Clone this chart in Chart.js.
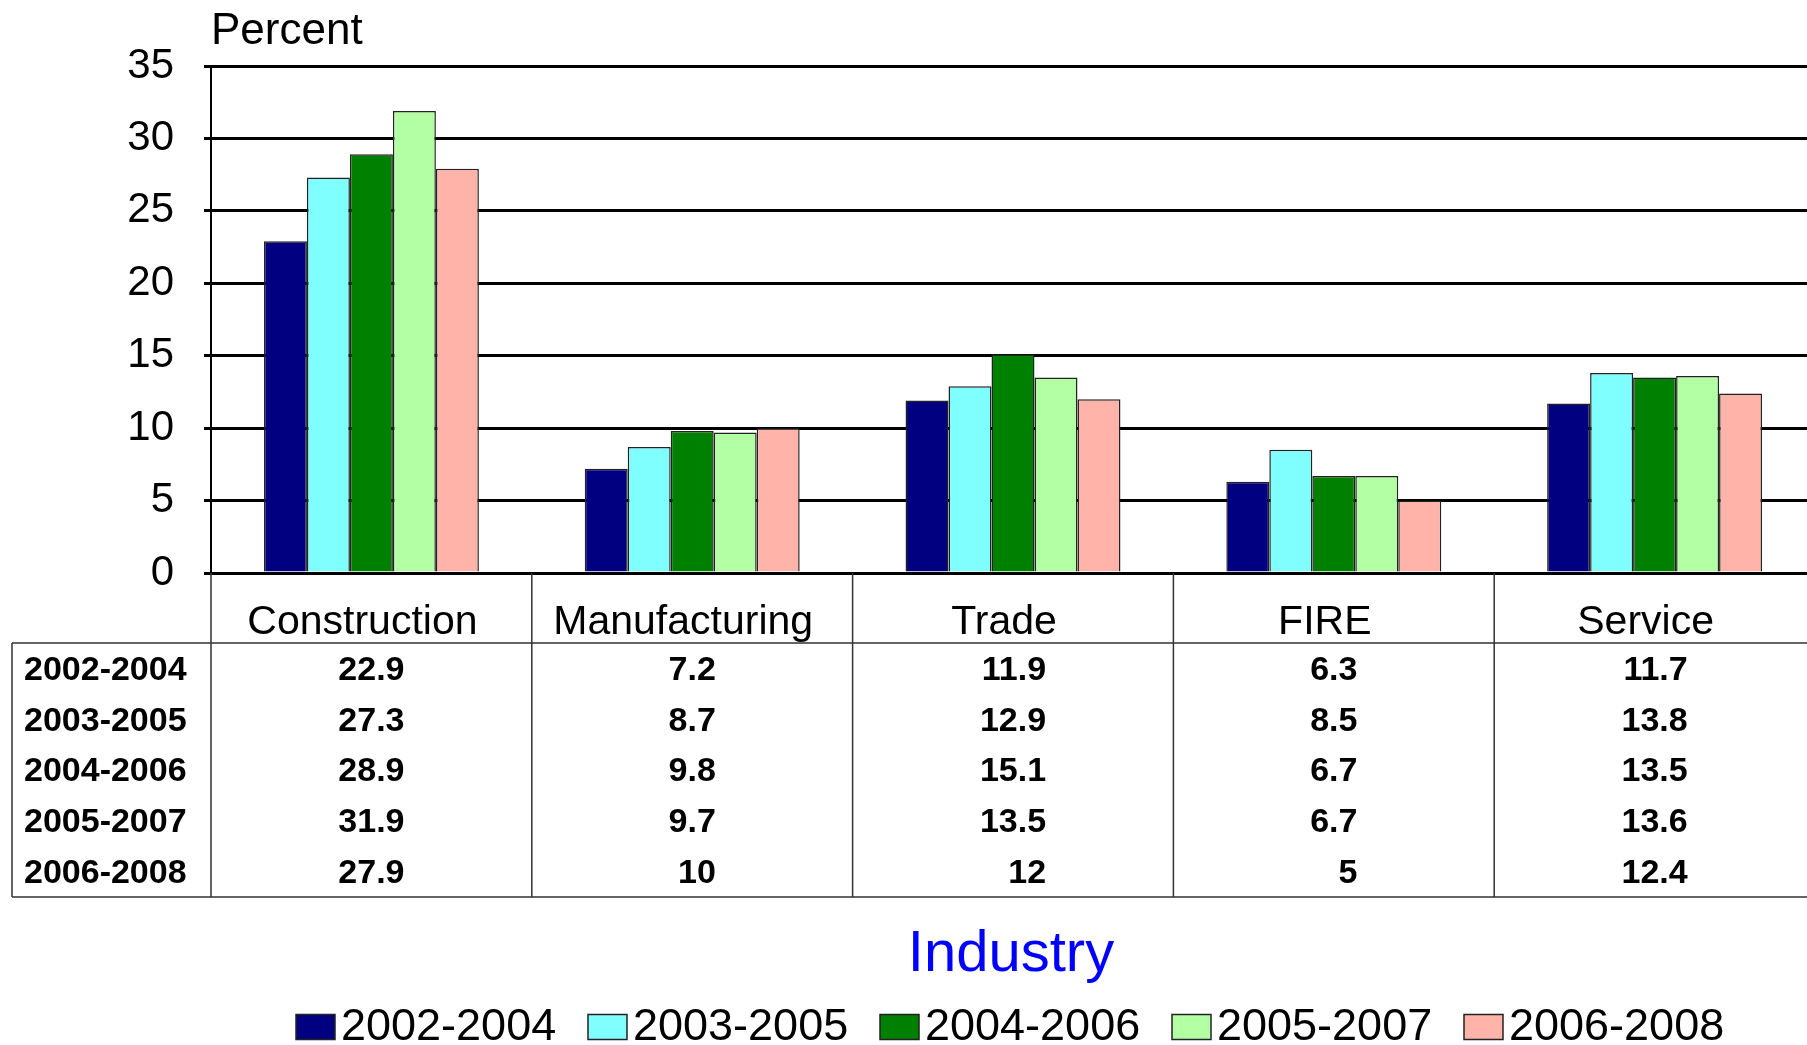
<!DOCTYPE html>
<html>
<head>
<meta charset="utf-8">
<script src="https://cdn.jsdelivr.net/npm/chart.js@4.4.1/dist/chart.umd.min.js"></script>
<style>
    html, body { margin: 0; padding: 0; background: #fff; overflow: hidden; }
    #wrap { width: 1807px; height: 1045px; overflow: hidden; }
</style>
</head>
<body>
<div id="wrap"><canvas id="chart" width="1815" height="1045"></canvas></div>
<script>
// --- data ---
const industries = ['Construction', 'Manufacturing', 'Trade', 'FIRE', 'Service'];
const periods = ['2002-2004', '2003-2005', '2004-2006', '2005-2007', '2006-2008'];
const v2002_2004 = [22.9, 7.2, 11.9, 6.3, 11.7];
const v2003_2005 = [27.3, 8.7, 12.9, 8.5, 13.8];
const v2004_2006 = [28.9, 9.8, 15.1, 6.7, 13.5];
const v2005_2007 = [31.9, 9.7, 13.5, 6.7, 13.6];
const v2006_2008 = [27.9, 10, 12, 5, 12.4];
const yTicks = [0, 5, 10, 15, 20, 25, 30, 35];

const seriesValues = [v2002_2004, v2003_2005, v2004_2006, v2005_2007, v2006_2008];
const barColors = ['#000080', '#80FFFF', '#008000', '#B3FFA3', '#FFB3A9'];
const FONT = "'Liberation Sans', Arial, sans-serif";

// --- data table, axis title, x title and legend drawn under the plot ---
const tablePlugin = {
    id: 'dataTable',
    afterDraw(chart) {
        const ctx = chart.ctx;
        const area = chart.chartArea;
        const xs = chart.scales.x;
        const top = xs.bottom;          // line under the category labels
        const rowH = 50.8;
        const bottom = top + rowH * periods.length;
        const tableLeft = 12;

        // column edges
        const edges = [area.left];
        for (let i = 0; i < industries.length - 1; i++) {
            edges.push((xs.getPixelForValue(i) + xs.getPixelForValue(i + 1)) / 2);
        }

        ctx.save();
        ctx.strokeStyle = '#333';
        ctx.lineWidth = 1.5;
        ctx.beginPath();
        edges.forEach(x => { ctx.moveTo(x, area.bottom); ctx.lineTo(x, bottom); });
        ctx.moveTo(tableLeft, top); ctx.lineTo(chart.width, top);
        ctx.moveTo(tableLeft, bottom); ctx.lineTo(chart.width, bottom);
        ctx.moveTo(tableLeft, top); ctx.lineTo(tableLeft, bottom);
        ctx.stroke();

        // row labels + values
        ctx.fillStyle = '#000';
        ctx.font = 'bold 34px ' + FONT;
        ctx.textBaseline = 'middle';
        periods.forEach((p, r) => {
            const y = top + rowH * (r + 0.5) + 2;
            ctx.textAlign = 'left';
            ctx.fillText(p, 24, y);
        });
        industries.forEach((name, c) => {
            const cx = xs.getPixelForValue(c);
            const strs = seriesValues.map(s => String(s[c]));
            const maxW = Math.max(...strs.map(s => ctx.measureText(s).width));
            ctx.textAlign = 'right';
            strs.forEach((s, r) => {
                ctx.fillText(s, cx + maxW / 2, top + rowH * (r + 0.5) + 2);
            });
        });

        // y axis title
        ctx.font = '44px ' + FONT;
        ctx.textAlign = 'left';
        ctx.textBaseline = 'alphabetic';
        ctx.fillText('Percent', area.left, 44);

        // x title
        ctx.fillStyle = '#0000FF';
        ctx.font = '58px ' + FONT;
        ctx.textAlign = 'center';
        ctx.textBaseline = 'middle';
        ctx.fillText('Industry', 1011, 955);

        // legend
        ctx.font = '45px ' + FONT;
        ctx.textAlign = 'left';
        chart.data.datasets.forEach((ds, i) => {
            const x = 296 + i * 292;
            const y = 1027;
            ctx.fillStyle = ds.backgroundColor;
            ctx.fillRect(x, y - 12.5, 39, 25);
            ctx.strokeStyle = '#222';
            ctx.lineWidth = 1.5;
            ctx.strokeRect(x, y - 12.5, 39, 25);
            ctx.fillStyle = '#000';
            ctx.fillText(ds.label, x + 45, y + 1);
        });
        ctx.restore();
    }
};

new Chart(document.getElementById('chart'), {
    type: 'bar',
    data: {
        labels: industries,
        datasets: periods.map((p, i) => ({
            label: p,
            data: seriesValues[i],
            backgroundColor: barColors[i],
            borderColor: '#222',
            borderWidth: 1.5,
            categoryPercentage: 0.67,
            barPercentage: 1.0
        }))
    },
    options: {
        responsive: false,
        animation: false,
        devicePixelRatio: 1,
        layout: { padding: { top: 66, left: 0, right: 0, bottom: 402 } },
        plugins: {
            legend: { display: false },
            tooltip: { enabled: false }
        },
        scales: {
            x: {
                grid: { display: false, drawTicks: false },
                border: { display: false },
                ticks: {
                    color: '#000',
                    font: { family: FONT, size: 41 },
                    padding: 25,
                    labelOffset: -9,
                    maxRotation: 0
                },
                afterFit: s => { s.height = 70; }
            },
            y: {
                min: 0,
                max: 35,
                afterBuildTicks: s => { s.ticks = yTicks.map(v => ({ value: v })); },
                grid: { color: '#000', lineWidth: 3, tickLength: 7 },
                border: { display: true, color: '#000', width: 2 },
                ticks: {
                    color: '#000',
                    font: { family: FONT, size: 42 },
                    padding: 30
                },
                afterFit: s => { s.width = 211; }
            }
        }
    },
    plugins: [tablePlugin]
});
</script>
</body>
</html>
